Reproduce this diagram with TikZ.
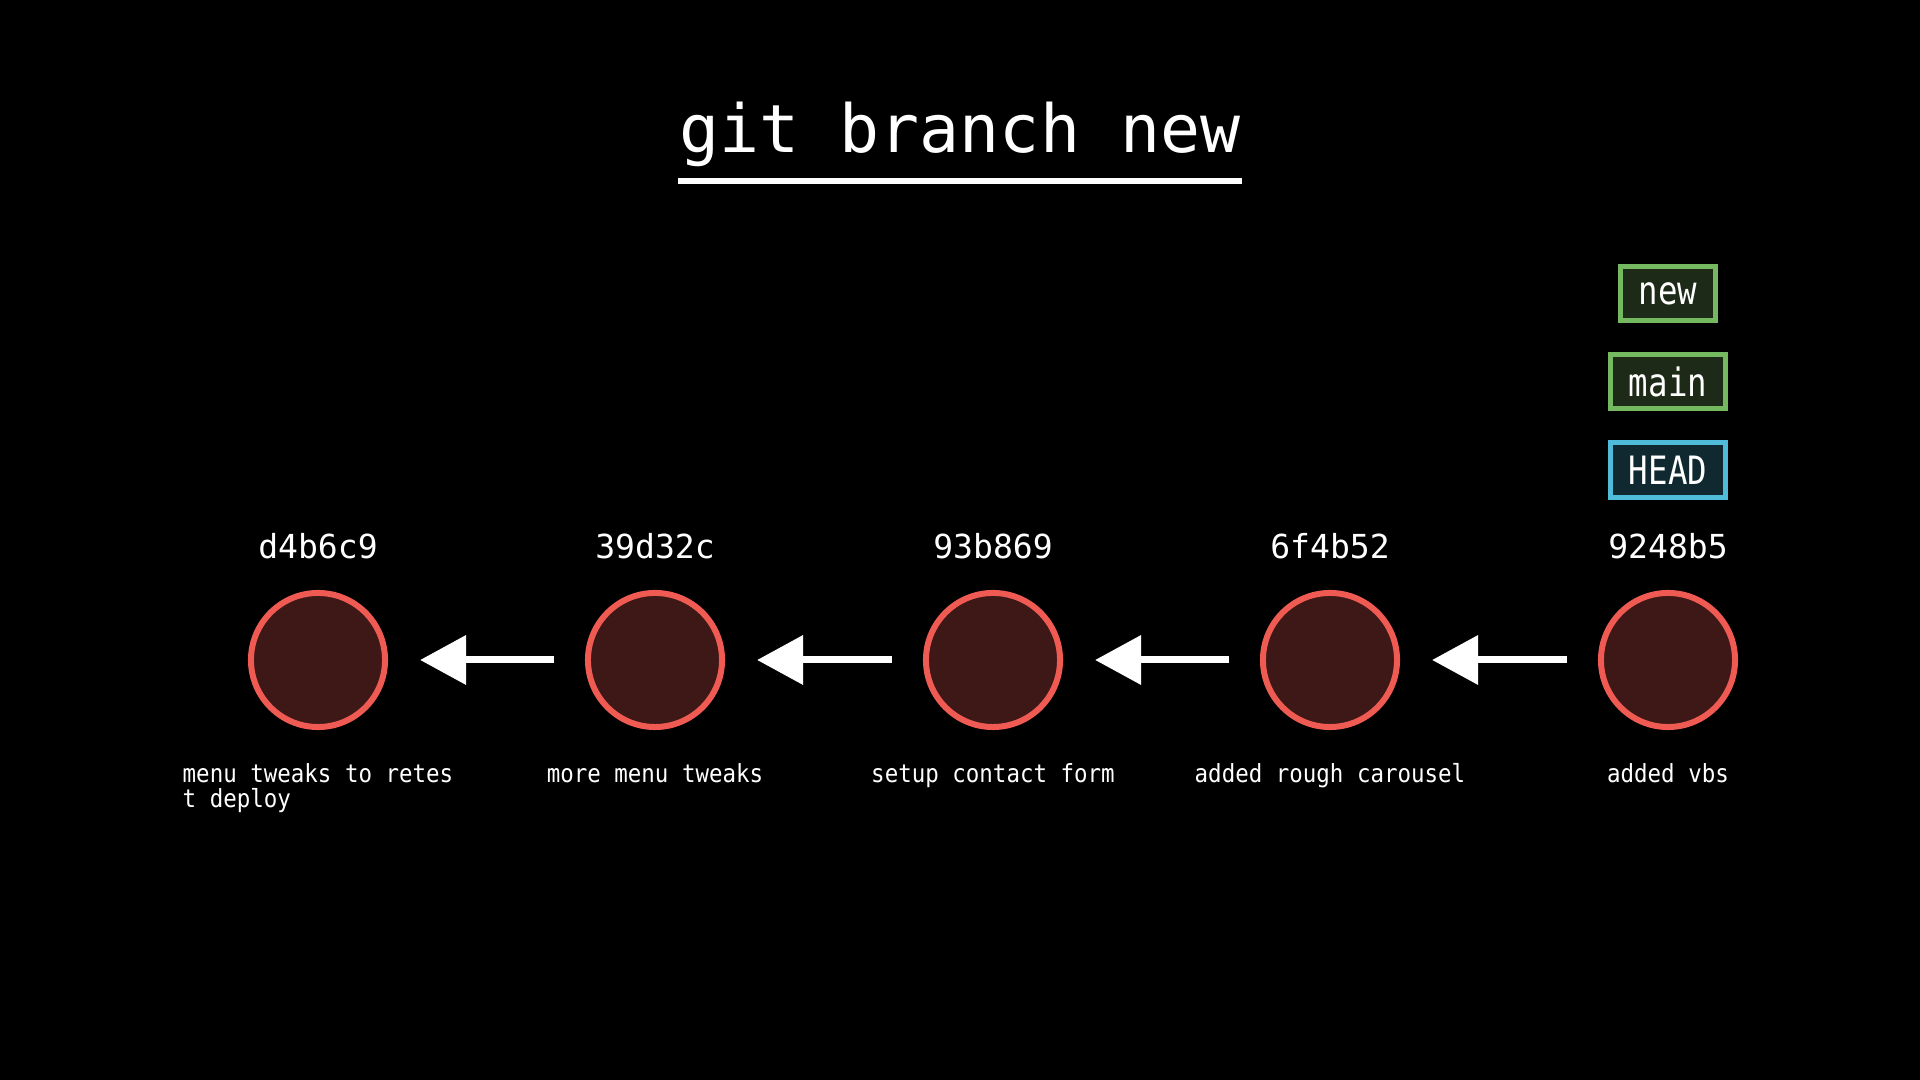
\documentclass[tikz,border=0pt]{standalone}
\usepackage{fontspec}
\usetikzlibrary{arrows.meta,positioning}
\newfontfamily\widemono{DejaVu Sans Mono}
\newfontfamily\labelmono[FakeStretch=0.83]{DejaVu Sans Mono}
\newfontfamily\msgmono[FakeStretch=0.9]{DejaVu Sans Mono}
\definecolor{Coral}{HTML}{EF5A52}
\definecolor{Maroon}{HTML}{3D1816}
\definecolor{Leaf}{HTML}{74B95F}
\definecolor{Moss}{HTML}{1E2A18}
\definecolor{Sky}{HTML}{4FBBD9}
\definecolor{Slate}{HTML}{102830}
\tikzset{
 commit/.style={circle,draw=Coral,fill=Maroon,line width=0.06cm,minimum size=1.34cm,inner sep=0pt},
 hash/.style={text=white,font=\widemono\fontsize{9.4}{11}\selectfont,inner sep=0pt},
 msg/.style={text=white,align=left,anchor=north,inner sep=0pt,font=\msgmono\fontsize{7.1}{7}\selectfont},
 ref/.style={draw=Leaf,fill=Moss,line width=0.05cm,text=white,font=\labelmono\fontsize{11.1}{13}\selectfont,minimum height=0.54cm,inner xsep=0.18cm,inner ysep=0pt},
 headref/.style={ref,draw=Sky,fill=Slate},
 parent/.style={-{Triangle[length=0.46cm,width=0.48cm]},line width=0.07cm,draw=white,shorten >=0.32cm,shorten <=0.31cm}
}
\begin{document}
\begin{tikzpicture}[x=0.01cm,y=-0.01cm]
\fill[black] (0,0) rectangle (1920,1080);
\useasboundingbox (0,0) rectangle (1920,1080);
\node[anchor=base,text=white,font=\widemono\fontsize{18.9}{22}\selectfont,inner sep=0pt] (title) at (960,153) {git branch new};
\draw[white,line width=0.06cm] (678,181) -- (1242,181);
\foreach \i/\x/\name/\text in {1/318/d4b6c9/{menu tweaks to retes\\t deploy},2/655/39d32c/more menu tweaks,3/993/93b869/setup contact form,4/1330/6f4b52/added rough carousel,5/1668/9248b5/added vbs} {
 \node[commit] (c\i) at (\x,660) {};
 \node[hash] (h\i) at (\x,546.5) {\name};
 \node[msg] (m\i) at (\x,763) {\text};
}
\foreach \j/\i in {2/1,3/2,4/3,5/4} \draw[parent] (c\j) -- (c\i);
\node[ref] (refnew) at (1668,293.5) {new};
\node[ref] (refmain) at (1668,381.5) {main};
\node[headref] (refhead) at (1668,470) {HEAD};
\end{tikzpicture}
\end{document}
